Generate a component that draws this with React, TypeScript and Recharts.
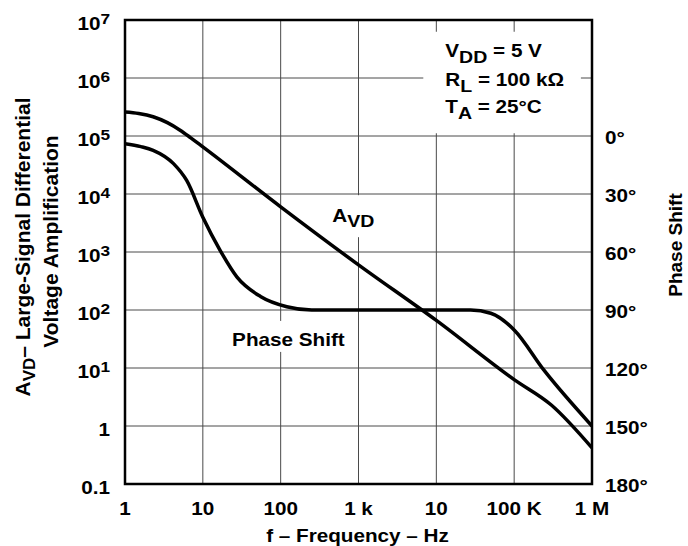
import React from 'react';
import {
  LineChart,
  Line,
  XAxis,
  YAxis,
  CartesianGrid,
  ReferenceArea,
  ReferenceDot,
} from 'recharts';

// frequency axis
const freqTicks = [1, 10, 100, 1000, 10000, 100000, 1000000];
const freqTickLabels = ['1', '10', '100', '1 k', '10', '100 K', '1 M'];

// left axis: large-signal differential voltage amplification
const gainTicks = [0.1, 1, 10, 100, 1e3, 1e4, 1e5, 1e6, 1e7];

// right axis: phase shift in degrees
const phaseTicks = [0, 30, 60, 90, 120, 150, 180];

// A_VD curve
const gainFreq = [1, 1.5, 2.3, 3.5, 5.1, 7, 10, 100, 1000, 10000, 100000, 300000, 1000000];
const gainValues = [2.6e5, 2.45e5, 2.15e5, 1.7e5, 1.26e5, 9.3e4, 6.5e4, 6.0e3, 6.0e2, 66, 6.3, 2.3, 0.42];

// phase shift curve
const phaseFreq = [1, 1.6, 2.3, 4.2, 6.2, 10, 16.6, 27.5, 55, 120, 250, 1000, 10000, 27500, 50000, 100000, 240000, 1000000];
const phaseValues = [4, 5.5, 7.4, 14.3, 23, 42, 59, 73, 83, 88.3, 90, 90, 90, 90, 91.7, 100.3, 121, 150];

const gainData = gainFreq.map((f, i) => ({ f, v: gainValues[i] }));
const phaseData = phaseFreq.map((f, i) => ({ f, v: phaseValues[i] }));

const FONT = '"Liberation Sans", Arial, Helvetica, sans-serif';
const SX = 1.15; // the original lettering is a bit wider than Arial

const HText = ({ x, y, anchor = 'start', size = 18, children }: any) => (
  <g transform={`translate(${x},${y}) scale(${SX},1)`}>
    <text x={0} y={0} textAnchor={anchor} fontFamily={FONT} fontWeight="bold" fontSize={size} fill="#000">
      {children}
    </text>
  </g>
);

const XTick = (props: any) => {
  const { x, y, index } = props;
  return <HText x={x} y={y + 31} anchor="middle">{freqTickLabels[index]}</HText>;
};

const GainTick = (props: any) => {
  const { x, y, payload } = props;
  const exp = Math.round(Math.log10(payload.value));
  let content: any;
  if (exp < 0) content = '0.1';
  else if (exp === 0) content = '1';
  else
    content = (
      <>
        10<tspan dy={-5.5} fontSize={15}>{exp}</tspan>
      </>
    );
  return <HText x={x - 15} y={y + 9.5} anchor="end">{content}</HText>;
};

const PhaseTick = (props: any) => {
  const { x, y, payload } = props;
  return <HText x={x + 13} y={y + 8}>{`${payload.value}°`}</HText>;
};

const XTitle = (props: any) => {
  const vb = props.viewBox;
  return <HText x={vb.x + vb.width / 2 - 1} y={vb.y + 57.5} anchor="middle">f – Frequency – Hz</HText>;
};

const LeftTitle = (props: any) => {
  const vb = props.viewBox;
  const cy = vb.y + vb.height / 2;
  return (
    <g fontFamily={FONT} fontWeight="bold" fill="#000">
      <text transform={`translate(${vb.x + 30},${cy - 5}) rotate(-90)`} textAnchor="middle" fontSize={21}>
        A<tspan dy={5} fontSize={17}>VD</tspan>
        <tspan dy={-5}>– Large-Signal Differential</tspan>
      </text>
      <text transform={`translate(${vb.x + 58},${cy - 10.5}) rotate(-90)`} textAnchor="middle" fontSize={21}>
        Voltage Amplification
      </text>
    </g>
  );
};

const RightTitle = (props: any) => {
  const vb = props.viewBox;
  const cy = vb.y + vb.height / 2;
  return (
    <text
      transform={`translate(${vb.x + 90},${cy - 7}) rotate(-90)`}
      textAnchor="middle"
      fontFamily={FONT}
      fontWeight="bold"
      fontSize={19}
      fill="#000"
    >
      Phase Shift
    </text>
  );
};

const ConditionsBox = (props: any) => {
  const vb = props.viewBox;
  const x = vb.x + 22;
  return (
    <g>
      <HText x={x} y={vb.y + 25.5}>
        V<tspan dy={6} fontSize={17}>DD</tspan>
        <tspan dy={-6}> = 5 V</tspan>
      </HText>
      <HText x={x} y={vb.y + 54.5}>
        R<tspan dy={5.5} fontSize={17}>L</tspan>
        <tspan dy={-5.5}> = 100 kΩ</tspan>
      </HText>
      <HText x={x} y={vb.y + 81.5}>
        T<tspan dy={6} fontSize={17}>A</tspan>
        <tspan dy={-6}> = 25°C</tspan>
      </HText>
    </g>
  );
};

const AvdLabel = (props: any) => {
  const vb = props.viewBox;
  const x = vb.x;
  const y = vb.y;
  return (
    <g>
      <rect x={x - 5} y={y - 27} width={56} height={42} fill="#fff" />
      <HText x={x} y={y}>
        A<tspan dy={5} fontSize={17}>VD</tspan>
      </HText>
    </g>
  );
};

const PhaseLabel = (props: any) => {
  const vb = props.viewBox;
  const x = vb.x;
  const y = vb.y;
  return (
    <g>
      <rect x={x - 5} y={y - 25} width={124} height={31} fill="#fff" />
      <HText x={x} y={y}>Phase Shift</HText>
    </g>
  );
};

export default function App() {
  return (
    <div style={{ position: 'absolute', left: 0, top: 0, width: 688, height: 546, background: '#fff' }}>
      <LineChart width={688} height={546} margin={{ top: 20, right: 0, bottom: 0, left: 0 }}>
        <CartesianGrid yAxisId="left" stroke="#4a4a4a" strokeWidth={1} />
        <XAxis
          dataKey="f"
          type="number"
          scale="log"
          domain={[1, 1000000]}
          ticks={freqTicks}
          interval={0}
          allowDataOverflow
          height={62}
          axisLine={false}
          tickLine={false}
          tickSize={0}
          tickMargin={0}
          tick={<XTick />}
          label={{ content: <XTitle /> }}
        />
        <YAxis
          yAxisId="left"
          type="number"
          scale="log"
          domain={[0.1, 1e7]}
          ticks={gainTicks}
          interval={0}
          allowDataOverflow
          width={125}
          axisLine={false}
          tickLine={false}
          tickSize={0}
          tickMargin={0}
          tick={<GainTick />}
          label={{ content: <LeftTitle /> }}
        />
        <YAxis
          yAxisId="right"
          orientation="right"
          type="number"
          domain={[-60, 180]}
          reversed
          ticks={phaseTicks}
          interval={0}
          allowDataOverflow
          width={96}
          axisLine={false}
          tickLine={false}
          tickSize={0}
          tickMargin={0}
          tick={<PhaseTick />}
          label={{ content: <RightTitle /> }}
        />
        <ReferenceArea
          yAxisId="left"
          x1={6800}
          x2={720000}
          y1={1.11e5}
          y2={6.3e6}
          fill="#fff"
          fillOpacity={1}
          stroke="none"
          label={{ content: <ConditionsBox /> }}
        />
        <ReferenceDot
          yAxisId="left"
          x={475}
          y={3140}
          r={1}
          fill="none"
          stroke="none"
          label={{ content: <AvdLabel /> }}
        />
        <ReferenceDot
          yAxisId="left"
          x={24.5}
          y={23.1}
          r={1}
          fill="none"
          stroke="none"
          label={{ content: <PhaseLabel /> }}
        />
        <ReferenceArea
          yAxisId="left"
          x1={1}
          x2={1000000}
          y1={0.1}
          y2={1e7}
          fill="none"
          stroke="#000"
          strokeWidth={2.5}
        />
        <Line
          yAxisId="left"
          data={gainData}
          dataKey="v"
          type="monotone"
          stroke="#000"
          strokeWidth={3.5}
          dot={false}
          isAnimationActive={false}
        />
        <Line
          yAxisId="right"
          data={phaseData}
          dataKey="v"
          type="monotone"
          stroke="#000"
          strokeWidth={3.5}
          dot={false}
          isAnimationActive={false}
        />
      </LineChart>
    </div>
  );
}
